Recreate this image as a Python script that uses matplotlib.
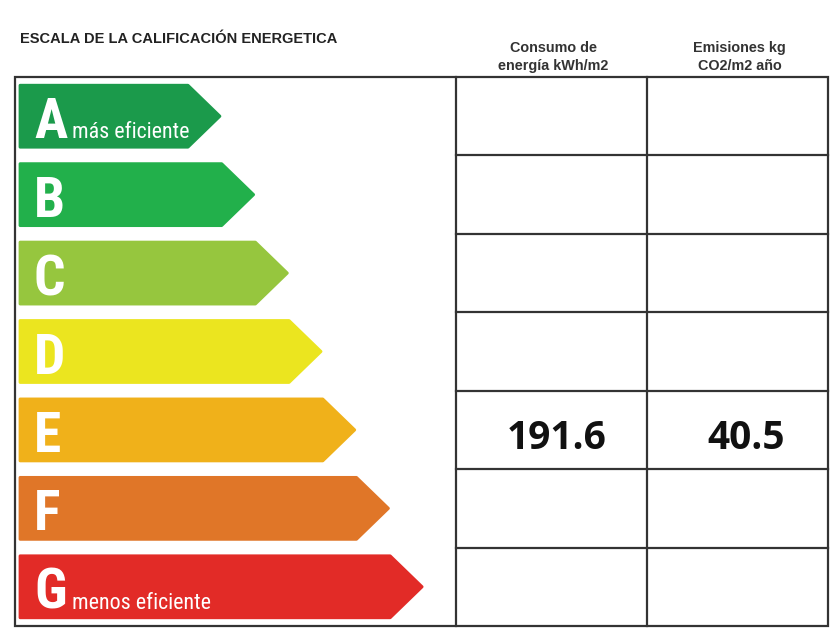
import numpy as np
import matplotlib.pyplot as plt
from matplotlib.patches import Polygon, Rectangle

# energy rating scale
grades = ['A', 'B', 'C', 'D', 'E', 'F', 'G']
grade_colors = ['#1b9a4b', '#22b04b', '#96c63e', '#ebe51f', '#f0b11a', '#e07628', '#e22b27']
grade_notes = ['más eficiente', '', '', '', '', '', 'menos eficiente']

rating = 'E'
consumo_kwh = 191.6
emisiones_kg = 40.5

title = 'ESCALA DE LA CALIFICACIÓN ENERGETICA'
col_headers = ['Consumo de\nenergía kWh/m2', 'Emisiones kg\nCO2/m2 año']

narrow = ['Roboto Condensed', 'DejaVu Sans']
sans = ['Liberation Sans', 'DejaVu Sans']
num_font = ['Open Sans', 'DejaVu Sans']

fig = plt.figure(figsize=(8.4, 6.3), dpi=100)
ax = fig.add_axes([0, 0, 1, 1])
ax.set_xlim(0, 840)
ax.set_ylim(630, 0)
ax.axis('off')

# layout (pixels)
box_l, box_r, box_t, box_b = 15, 828, 77, 626
col_x = [456, 647, 828]
row_h = (box_b - box_t) / len(grades)
arrow_x0 = 20
arrow_h = 62
tip_len = 32

ax.text(20, 39, title, fontsize=10.5, fontweight='bold', family=sans,
        color='#222222', ha='left', va='center')
for j, h in enumerate(col_headers):
    cx = (col_x[j] + col_x[j + 1]) / 2 + 2
    ax.text(cx, 57, h, fontsize=10.4, fontweight='bold', family=sans, color='#333333',
            ha='center', va='center', linespacing=1.4)

ax.add_patch(Rectangle((box_l, box_t), box_r - box_l, box_b - box_t, fill=False,
                       edgecolor='#333333', lw=1.6))
for x in col_x[:-1]:
    ax.plot([x, x], [box_t, box_b], color='#333333', lw=1.6)
for i in range(1, len(grades)):
    y = box_t + i * row_h
    ax.plot([col_x[0], col_x[-1]], [y, y], color='#333333', lw=1.6)

for i, (g, c, note) in enumerate(zip(grades, grade_colors, grade_notes)):
    yc = box_t + (i + 0.5) * row_h
    tip = 220 + i * 33.7
    pts = [(arrow_x0, yc - arrow_h / 2), (tip - tip_len, yc - arrow_h / 2), (tip, yc),
           (tip - tip_len, yc + arrow_h / 2), (arrow_x0, yc + arrow_h / 2)]
    ax.add_patch(Polygon(pts, closed=True, facecolor=c, edgecolor=c, lw=2, joinstyle='round'))
    ax.text(34, yc + 22, g, fontsize=40, fontweight='bold', family=narrow, color='white',
            ha='left', va='baseline')
    if note:
        ax.text(72, yc + 22, note, fontsize=15.8, family=narrow, color='white',
                ha='left', va='baseline')
    if g == rating:
        ax.text((col_x[0] + col_x[1]) / 2 + 5, yc + 9, f'{consumo_kwh:.1f}', fontsize=28,
                fontweight='bold', family=num_font, color='#111111',
                ha='center', va='center')
        ax.text((col_x[1] + col_x[2]) / 2 + 9, yc + 9, f'{emisiones_kg:.1f}', fontsize=28,
                fontweight='bold', family=num_font, color='#111111',
                ha='center', va='center')

fig.savefig('out.png', dpi=100, facecolor='white')
